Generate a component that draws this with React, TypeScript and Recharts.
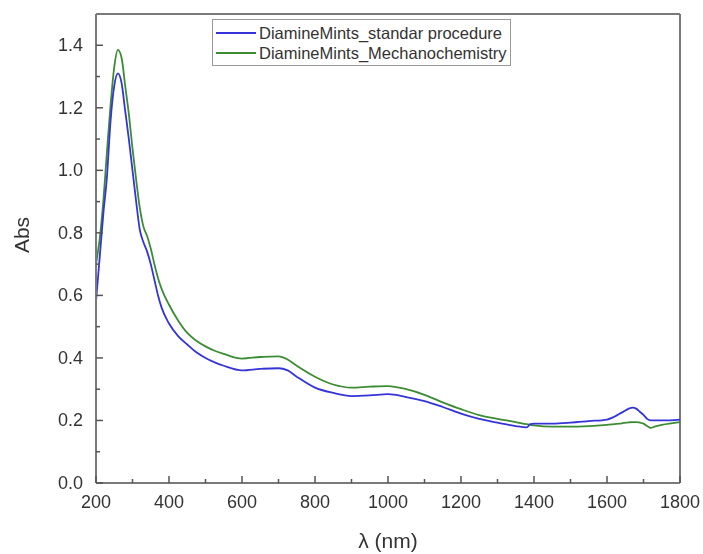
import React from "react";
import { LineChart, Line, XAxis, YAxis, Legend, ReferenceLine } from "recharts";

const wavelengths = [
  200, 210, 220, 230, 240, 250, 260, 270, 280, 290, 300, 310, 320, 330, 340, 350, 360, 370, 380, 400,
  425, 450, 475, 500, 525, 550, 600, 650, 700, 725, 750, 800, 850, 900, 950, 1000, 1050, 1100, 1150, 1200,
  1250, 1300, 1350, 1380, 1390, 1400, 1450, 1500, 1550, 1600, 1620, 1640, 1660, 1670, 1680, 1690, 1700,
  1710, 1720, 1730, 1750, 1800,
];

const standardAbs = [
  0.58, 0.72, 0.86, 0.98, 1.16, 1.27, 1.31, 1.28, 1.19, 1.1, 1.0, 0.9, 0.81, 0.77, 0.74, 0.7, 0.65, 0.6,
  0.56, 0.51, 0.47, 0.443, 0.418, 0.4, 0.386, 0.375, 0.36, 0.365, 0.367, 0.36, 0.34, 0.305, 0.288, 0.278,
  0.28, 0.284, 0.275, 0.262, 0.243, 0.222, 0.205, 0.193, 0.182, 0.178, 0.188, 0.19, 0.19, 0.193, 0.198,
  0.203, 0.212, 0.225, 0.238, 0.241, 0.238, 0.228, 0.218, 0.205, 0.2, 0.2, 0.2, 0.203,
];

const mechanoAbs = [
  0.7, 0.78, 0.9, 1.06, 1.21, 1.33, 1.385, 1.36, 1.27, 1.18, 1.07, 0.97, 0.88, 0.82, 0.79, 0.75, 0.7,
  0.655, 0.62, 0.57, 0.52, 0.48, 0.455, 0.437, 0.423, 0.413, 0.398, 0.403, 0.405, 0.395, 0.375, 0.34,
  0.315, 0.305, 0.308, 0.31, 0.3, 0.282, 0.258, 0.236, 0.217, 0.205, 0.195, 0.188, 0.186, 0.184, 0.18,
  0.18, 0.182, 0.186, 0.188, 0.191, 0.194, 0.195, 0.195, 0.193, 0.19, 0.182, 0.176, 0.18, 0.186, 0.195,
];

const xTicks = [200, 300, 400, 500, 600, 700, 800, 900, 1000, 1100, 1200, 1300, 1400, 1500, 1600, 1700, 1800];
const yTicks = [0, 0.1, 0.2, 0.3, 0.4, 0.5, 0.6, 0.7, 0.8, 0.9, 1.0, 1.1, 1.2, 1.3, 1.4];

const seriesNames = ["DiamineMints_standar procedure", "DiamineMints_Mechanochemistry"];
const seriesColors = ["#3434d8", "#3c8c34"];

const font = "Arial, 'Liberation Sans', sans-serif";
const textColor = "#333";
const frameColor = "#7a7a7a";

const data = wavelengths.map((w, i) => ({ w, std: standardAbs[i], mech: mechanoAbs[i] }));

const XTick = (props: any) => {
  const { x, y, payload } = props;
  const v = payload.value;
  const major = v % 200 === 0;
  return (
    <g>
      <line x1={x} x2={x} y1={y} y2={y - (major ? 7 : 4)} stroke="#555" strokeWidth={1.5} />
      {major && (
        <text x={x} y={y + 25} textAnchor="middle" fontSize={18} fontFamily={font} fill={textColor}>
          {v}
        </text>
      )}
    </g>
  );
};

const YTick = (props: any) => {
  const { x, y, payload } = props;
  const v = payload.value;
  const major = Math.round(v * 10) % 2 === 0;
  return (
    <g>
      <line x1={x} x2={x + (major ? 7 : 4)} y1={y} y2={y} stroke="#555" strokeWidth={1.5} />
      {major && (
        <text x={x - 13} y={y + 6} textAnchor="end" fontSize={18} fontFamily={font} fill={textColor}>
          {v.toFixed(1)}
        </text>
      )}
    </g>
  );
};

const LegendBox = () => (
  <div
    style={{
      border: "1px solid #999",
      background: "#fff",
      padding: "3px 3px 2px 3px",
      fontFamily: font,
      fontSize: 16.5,
      lineHeight: "20px",
      color: textColor,
      whiteSpace: "nowrap",
    }}
  >
    {seriesNames.map((n, i) => (
      <div key={n} style={{ display: "flex", alignItems: "center" }}>
        <span
          style={{
            display: "inline-block",
            width: 40,
            height: 0,
            borderTop: `2px solid ${seriesColors[i]}`,
            marginRight: 3,
          }}
        />
        <span>{n}</span>
      </div>
    ))}
  </div>
);

export default function App() {
  return (
    <div style={{ position: "fixed", top: 8, left: 8 }}>
      <LineChart width={695} height={546} data={data} margin={{ top: 6, right: 23, left: 0, bottom: 0 }}>
        <XAxis
          dataKey="w"
          type="number"
          domain={[200, 1800]}
          ticks={xTicks}
          interval={0}
          tick={<XTick />}
          tickLine={false}
          tickSize={0}
          tickMargin={0}
          height={71}
          axisLine={{ stroke: frameColor, strokeWidth: 2 }}
          label={() => (
            <text x={380} y={540} textAnchor="middle" fontSize={21} fontFamily={font} fill={textColor}>
              λ (nm)
            </text>
          )}
        />
        <YAxis
          type="number"
          domain={[0, 1.5]}
          ticks={yTicks}
          interval={0}
          tick={<YTick />}
          tickLine={false}
          tickSize={0}
          tickMargin={0}
          width={88}
          axisLine={{ stroke: frameColor, strokeWidth: 2 }}
          label={() => (
            <text
              x={21}
              y={227}
              transform="rotate(-90 21 227)"
              textAnchor="middle"
              fontSize={21}
              fontFamily={font}
              fill={textColor}
            >
              Abs
            </text>
          )}
        />
        <ReferenceLine y={1.5} stroke={frameColor} strokeWidth={2} />
        <ReferenceLine x={1800} stroke={frameColor} strokeWidth={2} />
        <Legend
          layout="vertical"
          align="center"
          verticalAlign="middle"
          content={() => <LegendBox />}
          wrapperStyle={{ position: "absolute", top: 11, left: 204, width: "auto" }}
        />
        <Line
          dataKey="mech"
          name={seriesNames[1]}
          type="monotone"
          stroke={seriesColors[1]}
          strokeWidth={1.8}
          dot={false}
          isAnimationActive={false}
        />
        <Line
          dataKey="std"
          name={seriesNames[0]}
          type="monotone"
          stroke={seriesColors[0]}
          strokeWidth={1.8}
          dot={false}
          isAnimationActive={false}
        />
      </LineChart>
    </div>
  );
}
